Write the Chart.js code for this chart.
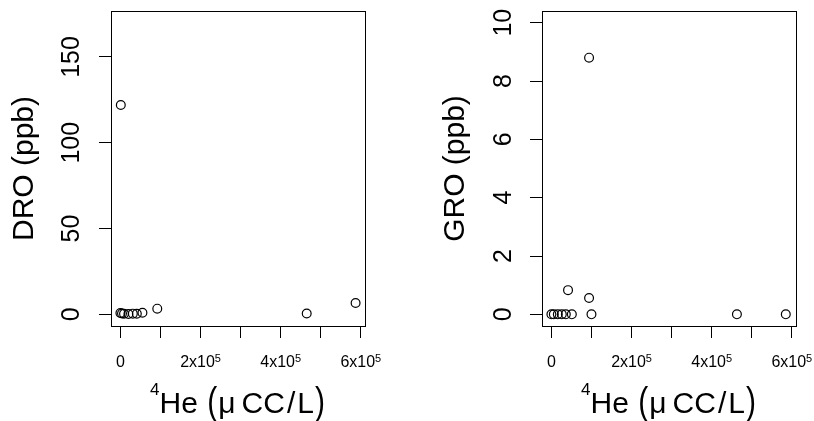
<!DOCTYPE html>
<html>
<head>
<meta charset="utf-8">
<script src="https://cdn.jsdelivr.net/npm/chart.js@4.4.0/dist/chart.umd.min.js"></script>
<style>
  body { margin: 0; background: #fff; }
  #wrap { position: relative; width: 814px; height: 421px; }
  canvas { position: absolute; top: 0; }
</style>
</head>
<body>
<div id="wrap">
  <canvas id="js--chart--dro" width="407" height="421" style="left:0"></canvas>
  <canvas id="js--chart--gro" width="407" height="421" style="left:407px"></canvas>
</div>
<script>
// 4He (uCC/L) against DRO and GRO (ppb)
const heDro = [1000, 0, 4000, 9000, 20000, 31000, 41000, 55000, 92000, 465000, 587000];
const dro   = [122, 0.8, 0.5, 0.3, 0.2, 0.4, 0.3, 0.9, 3.3, 0.5, 6.6];

const heGro = [0, 6000, 16000, 26000, 36000, 51000, 41500, 94000, 94000, 100000, 463000, 585000];
const gro   = [0, 0, 0, 0, 0, 0, 0.83, 8.8, 0.56, 0, 0, 0];

const heTicks = [0, 100000, 200000, 300000, 400000, 500000, 600000];
const heLabelTicks = [0, 200000, 400000, 600000];
const droTicks = [0, 50, 100, 150];
const groTicks = [0, 2, 4, 6, 8, 10];

const FONT = '"Liberation Sans", Arial, Helvetica, sans-serif';

function f(size) { return size + 'px ' + FONT; }

// box, x tick labels with exponents, axis titles
const rPlot = {
    id: 'rPlot',
    afterDraw(chart, args, opts) {
        const ctx = chart.ctx;
        const a = chart.chartArea;
        const xs = chart.scales.x;
        ctx.save();
        ctx.strokeStyle = '#000';
        ctx.lineWidth = 1;
        ctx.strokeRect(Math.round(a.left) + 0.5, Math.round(a.top) + 0.5,
            Math.round(a.right - a.left), Math.round(a.bottom - a.top));

        ctx.fillStyle = '#000';
        ctx.textBaseline = 'alphabetic';
        ctx.textAlign = 'left';

        // x tick labels like 2x10^5
        heLabelTicks.forEach(function(v) {
            const px = xs.getPixelForValue(v);
            if (v === 0) {
                ctx.font = f(16);
                const w = ctx.measureText('0').width;
                ctx.fillText('0', px - w / 2, a.bottom + 41);
                return;
            }
            const e = Math.floor(Math.log10(v));
            const m = Math.round(v / Math.pow(10, e));
            const base = m + 'x10';
            ctx.font = f(16);
            const wb = ctx.measureText(base).width;
            ctx.font = f(11);
            const ws = ctx.measureText(String(e)).width;
            const x0 = px - (wb + ws) / 2;
            ctx.font = f(16);
            ctx.fillText(base, x0, a.bottom + 41);
            ctx.font = f(11);
            ctx.fillText(String(e), x0 + wb, a.bottom + 35.5);
        });

        // x title: 4He (u CC/L), brackets stretched like plotmath bgroup
        const parts = [
            {t: '4', size: 17, dy: -18},
            {t: 'He', size: 30, dy: 0},
            {t: ' ', size: 30, dy: 0},
            {t: '(', size: 30, dy: 0, tall: true},
            {t: '\u03bc', size: 30, dy: 0},
            {t: ' ', size: 22, dy: 0},
            {t: 'CC', size: 30, dy: 0},
            {t: '/', size: 30, dy: 0, pad: 2},
            {t: 'L', size: 30, dy: 0},
            {t: ')', size: 30, dy: 0, tall: true}
        ];
        let total = 0;
        parts.forEach(function(p) {
            ctx.font = f(p.size);
            p.w = ctx.measureText(p.t).width + 2 * (p.pad || 0) + (p.tall ? 2 : 0);
            total += p.w;
        });
        let cx = (a.left + a.right) / 2 - total / 2;
        const base = a.bottom + 86.5;
        parts.forEach(function(p) {
            ctx.font = f(p.size);
            if (p.tall) {
                ctx.save();
                ctx.translate(cx + 1, base + 1);
                ctx.scale(1, 1.32);
                ctx.fillText(p.t, 0, 0);
                ctx.restore();
            } else {
                ctx.fillText(p.t, cx + (p.pad || 0), base + p.dy);
            }
            cx += p.w;
        });

        // y title
        ctx.translate(a.left - 78, (a.top + a.bottom) / 2);
        ctx.rotate(-Math.PI / 2);
        ctx.font = f(30);
        ctx.textAlign = 'center';
        ctx.fillText(opts.yTitle, 0, 0);
        ctx.restore();
    }
};

function makeConfig(xData, yData, yTicks, yMin, yMax, yTitle, padRight, yWidth, labelPad) {
    const points = xData.map(function(x, i) { return {x: x, y: yData[i]}; });
    return {
        type: 'scatter',
        data: {
            datasets: [{
                data: points,
                pointStyle: 'circle',
                pointRadius: 4.4,
                pointBorderWidth: 1.2,
                borderColor: '#000',
                backgroundColor: 'rgba(0,0,0,0)'
            }]
        },
        options: {
            responsive: false,
            animation: false,
            events: [],
            layout: { padding: { left: 0, right: padRight, top: 11, bottom: 0 } },
            plugins: {
                legend: { display: false },
                tooltip: { enabled: false },
                rPlot: { yTitle: yTitle }
            },
            scales: {
                x: {
                    type: 'linear',
                    min: -23480,
                    max: 610480,
                    afterBuildTicks: function(s) { s.ticks = heTicks.map(function(v) { return {value: v}; }); },
                    afterFit: function(s) {
                        s.height = 95;
                        s.paddingLeft = 0;
                        s.paddingRight = 0;
                    },
                    border: { display: false },
                    grid: { drawOnChartArea: false, drawTicks: true, tickLength: 12, color: '#000', lineWidth: 1 },
                    ticks: { display: false }
                },
                y: {
                    type: 'linear',
                    min: yMin,
                    max: yMax,
                    afterBuildTicks: function(s) { s.ticks = yTicks.map(function(v) { return {value: v}; }); },
                    afterFit: function(s) {
                        s.width = yWidth;
                        s.paddingTop = 0;
                        s.paddingBottom = 0;
                    },
                    border: { display: false },
                    grid: { drawOnChartArea: false, drawTicks: true, tickLength: 12, color: '#000', lineWidth: 1 },
                    ticks: {
                        autoSkip: false,
                        minRotation: 90,
                        maxRotation: 90,
                        crossAlign: 'center',
                        padding: labelPad,
                        color: '#000',
                        font: { family: FONT, size: 25 },
                        callback: function(v) { return String(v); }
                    }
                }
            }
        },
        plugins: [rPlot]
    };
}

new Chart(document.getElementById('js--chart--dro'),
    makeConfig(heDro, dro, droTicks, -6.8, 176.8, 'DRO (ppb)', 42, 111, 6));
new Chart(document.getElementById('js--chart--gro'),
    makeConfig(heGro, gro, groTicks, -0.4, 10.4, 'GRO (ppb)', 18, 135, 12));
</script>
</body>
</html>
